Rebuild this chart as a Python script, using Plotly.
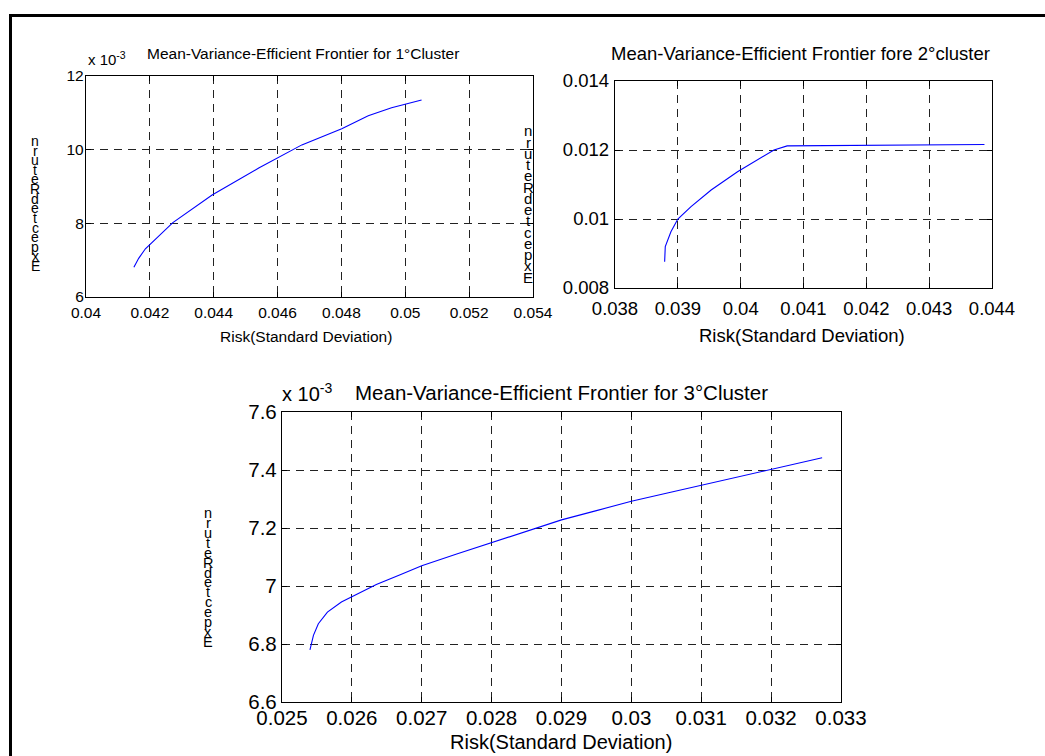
import plotly.graph_objects as go

W, H = 1045, 756
FONT = "Liberation Sans, Arial, Helvetica, sans-serif"

# ---------------- data ----------------
c1_risk = [0.04150, 0.04165, 0.04186, 0.04272, 0.04395, 0.04541, 0.04676, 0.04801, 0.04884, 0.04957, 0.05051]
c1_ret = [0.00681, 0.00705, 0.00731, 0.00802, 0.00877, 0.00950, 0.01013, 0.01057, 0.01092, 0.01114, 0.01135]

c2_risk = [0.03879, 0.03880, 0.03889, 0.03900, 0.03921, 0.03953, 0.03995, 0.04027, 0.04053, 0.04074, 0.04200, 0.04300, 0.04388]
c2_ret = [0.00876, 0.00920, 0.00963, 0.01000, 0.01036, 0.01084, 0.01137, 0.01171, 0.01200, 0.01212, 0.01213, 0.01214, 0.01216]

c3_risk = [0.02540, 0.02545, 0.02552, 0.02565, 0.02585, 0.02610, 0.02635, 0.02670, 0.02700, 0.02750, 0.02800,
           0.02850, 0.02900, 0.02950, 0.03000, 0.03050, 0.03100, 0.03150, 0.03200, 0.03250, 0.03273]
c3_ret = [0.006780, 0.006830, 0.006870, 0.006910, 0.006945, 0.006975, 0.007005, 0.007040, 0.007070, 0.007110, 0.007150,
          0.007190, 0.007228, 0.007260, 0.007292, 0.007320, 0.007347, 0.007373, 0.007400, 0.007428, 0.007442]

x1_ticks = [0.040, 0.042, 0.044, 0.046, 0.048, 0.050, 0.052, 0.054]
x1_labels = ["0.04", "0.042", "0.044", "0.046", "0.048", "0.05", "0.052", "0.054"]
y1_ticks = [0.006, 0.008, 0.010, 0.012]
y1_labels = ["6", "8", "10", "12"]

x2_ticks = [0.038, 0.039, 0.040, 0.041, 0.042, 0.043, 0.044]
x2_labels = ["0.038", "0.039", "0.04", "0.041", "0.042", "0.043", "0.044"]
y2_ticks = [0.008, 0.010, 0.012, 0.014]
y2_labels = ["0.008", "0.01", "0.012", "0.014"]

x3_ticks = [0.025, 0.026, 0.027, 0.028, 0.029, 0.030, 0.031, 0.032, 0.033]
x3_labels = ["0.025", "0.026", "0.027", "0.028", "0.029", "0.03", "0.031", "0.032", "0.033"]
y3_ticks = [0.0066, 0.0068, 0.0070, 0.0072, 0.0074, 0.0076]
y3_labels = ["6.6", "6.8", "7", "7.2", "7.4", "7.6"]

titles = ["Mean-Variance-Efficient Frontier for 1°Cluster",
          "Mean-Variance-Efficient Frontier fore 2°cluster",
          "Mean-Variance-Efficient Frontier for 3°Cluster"]
xlabel = "Risk(Standard Deviation)"
ylabel = "ExpectedReturn"
scale_label = "x 10<sup>-3</sup>"

# ---------------- layout helpers ----------------
def fx(p):
    return p / W

def fy(p):
    return 1 - p / H

# pixel boxes: (left, right, top, bottom)
box1 = (86, 533, 76, 297)
box2 = (615, 992, 81, 288)
box3 = (282, 841, 412, 702)

EPS = 1e-9

def axis(box, horizontal, ticks, labels, fs, anchor, standoff):
    l, r, t, b = box
    dom = [fx(l), fx(r)] if horizontal else [fy(b), fy(t)]
    return dict(domain=dom, anchor=anchor, range=[ticks[0] - EPS, ticks[-1] + EPS],
                tickmode="array", tickvals=ticks, ticktext=labels,
                showline=True, linecolor="black", linewidth=1.3, mirror="ticks",
                ticks="inside", ticklen=5, tickwidth=1, tickcolor="black",
                showgrid=True, gridcolor="#222222", gridwidth=1, griddash="8px,6px",
                zeroline=False, ticklabelstandoff=standoff, automargin=False,
                tickfont=dict(family=FONT, size=fs, color="black"))

fig = go.Figure()
line = dict(color="#0000ff", width=1.1)
fig.add_trace(go.Scatter(x=c1_risk, y=c1_ret, mode="lines", line=line, xaxis="x", yaxis="y"))
fig.add_trace(go.Scatter(x=c2_risk, y=c2_ret, mode="lines", line=line, xaxis="x2", yaxis="y2"))
fig.add_trace(go.Scatter(x=c3_risk, y=c3_ret, mode="lines", line=line, xaxis="x3", yaxis="y3"))

fs1, fs2, fs3 = 15.5, 18.5, 20.5

ann = []

def text(x, y, s, size, xanchor="center", yanchor="middle"):
    ann.append(dict(x=fx(x), y=fy(y), xref="paper", yref="paper", text=s, showarrow=False,
                    xanchor=xanchor, yanchor=yanchor,
                    font=dict(family=FONT, size=size, color="black")))

# titles
text(303, 54, titles[0], 15.5)
text(800, 53, titles[1], 18.5)
text(561, 392, titles[2], 20.5)
# x 10^-3
text(86, 58, scale_label, 15, xanchor="left")
text(280, 392, scale_label, 20, xanchor="left")
# x labels
text(306, 336, xlabel, 15.5)
text(802, 335, xlabel, 18.5)
text(561, 742, xlabel, 20)

# stacked y labels (characters drawn bottom-to-top, unrotated)
def stacked(xc, ytop, ybot, size):
    chars = list(ylabel)[::-1]
    n = len(chars)
    step = (ybot - ytop) / (n - 1)
    for i, ch in enumerate(chars):
        text(xc, ytop + i * step, ch, size)

stacked(35, 141, 266, 14)
stacked(528, 131, 277, 15)
stacked(208, 513, 642, 14.5)

shapes = [
    dict(type="line", xref="paper", yref="paper", x0=fx(9), x1=fx(1045), y0=fy(15.5), y1=fy(15.5),
         line=dict(color="black", width=3)),
    dict(type="line", xref="paper", yref="paper", x0=fx(10.5), x1=fx(10.5), y0=fy(14), y1=fy(756),
         line=dict(color="black", width=3)),
]

fig.update_layout(
    width=W, height=H, autosize=False,
    margin=dict(l=0, r=0, t=0, b=0, pad=0, autoexpand=False),
    paper_bgcolor="white", plot_bgcolor="white", showlegend=False,
    xaxis=axis(box1, True, x1_ticks, x1_labels, fs1, "y", 1),
    yaxis=axis(box1, False, y1_ticks, y1_labels, fs1, "x", -2),
    xaxis2=axis(box2, True, x2_ticks, x2_labels, fs2, "y2", 4),
    yaxis2=axis(box2, False, y2_ticks, y2_labels, fs2, "x2", 1),
    xaxis3=axis(box3, True, x3_ticks, x3_labels, fs3, "y3", -3),
    yaxis3=axis(box3, False, y3_ticks, y3_labels, fs3, "x3", 0),
    annotations=ann, shapes=shapes,
)

fig.write_html("out.html")
